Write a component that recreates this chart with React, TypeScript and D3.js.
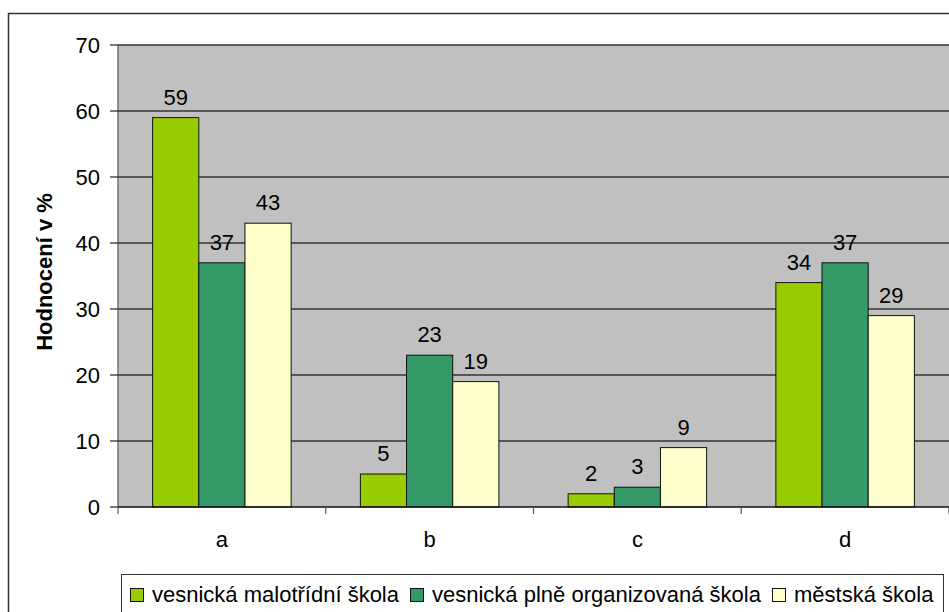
import React, { useEffect, useRef } from 'react';
import * as d3 from 'd3';

const categories = ['a', 'b', 'c', 'd'];
const seriesNames = [
  'vesnická malotřídní škola',
  'vesnická plně organizovaná škola',
  'městská škola',
];
const malotridni = [59, 5, 2, 34];
const plneOrganizovana = [37, 23, 3, 37];
const mestska = [43, 19, 9, 29];
const yTicks = [0, 10, 20, 30, 40, 50, 60, 70];
const colors = ['#99CC00', '#339966', '#FFFFCC'];

const W = 949;
const H = 612;

export default function App() {
  const svgRef = useRef<SVGSVGElement>(null);

  useEffect(() => {
    if (!svgRef.current) return;
    const svg = d3.select(svgRef.current);
    svg.selectAll('*').remove();

    const left = 118, right = 949, top = 45, bottom = 507;
    const font = 'Liberation Sans, Arial, sans-serif';
    const fs = 22;
    const series = [malotridni, plneOrganizovana, mestska];

    // outer chart frame (runs off the right / bottom edge)
    svg.append('rect')
      .attr('x', 8.5).attr('y', 13.5)
      .attr('width', 1000).attr('height', 700)
      .attr('fill', '#fff').attr('stroke', '#333').attr('stroke-width', 1.5);

    const x = d3.scaleBand().domain(categories).range([left, right]);
    const bw = x.bandwidth() / 4.5;
    const x1 = d3.scaleBand().domain(['0', '1', '2']).range([0, bw * 3]);
    const y = d3.scaleLinear().domain([0, 70]).range([bottom, top]);

    svg.append('rect')
      .attr('x', left).attr('y', top)
      .attr('width', right - left).attr('height', bottom - top)
      .attr('fill', '#C0C0C0');

    // gridlines
    svg.append('g').selectAll('line')
      .data(yTicks.filter(t => t > 0))
      .enter().append('line')
      .attr('x1', left).attr('x2', right)
      .attr('y1', d => y(d)).attr('y2', d => y(d))
      .attr('stroke', '#333').attr('stroke-width', 1.5);

    // y axis
    const gy = svg.append('g');
    gy.append('line')
      .attr('x1', left).attr('x2', left).attr('y1', top).attr('y2', bottom)
      .attr('stroke', '#555').attr('stroke-width', 1.2);
    gy.selectAll('.tk').data(yTicks).enter().append('line')
      .attr('x1', left - 8).attr('x2', left)
      .attr('y1', d => y(d)).attr('y2', d => y(d))
      .attr('stroke', '#222').attr('stroke-width', 1.2);
    gy.selectAll('text').data(yTicks).enter().append('text')
      .attr('x', 100).attr('y', d => y(d))
      .attr('dy', '0.36em')
      .attr('text-anchor', 'end')
      .attr('font-family', font).attr('font-size', fs)
      .text(d => d);

    svg.append('text')
      .attr('transform', `translate(52, 272) rotate(-90)`)
      .attr('text-anchor', 'middle')
      .attr('font-family', font).attr('font-size', fs).attr('font-weight', 'bold')
      .text('Hodnocení v %');

    // bars
    categories.forEach((c, ci) => {
      const x0 = (x(c) || 0) + (x.bandwidth() - bw * 3) / 2;
      series.forEach((s, si) => {
        const bx = x0 + (x1(String(si)) || 0);
        svg.append('rect')
          .attr('x', bx).attr('y', y(s[ci]))
          .attr('width', bw).attr('height', bottom - y(s[ci]))
          .attr('fill', colors[si]).attr('stroke', '#111').attr('stroke-width', 1);
        svg.append('text')
          .attr('x', bx + bw / 2).attr('y', y(s[ci]) - 13)
          .attr('text-anchor', 'middle')
          .attr('font-family', font).attr('font-size', fs)
          .text(s[ci]);
      });
    });

    // x axis
    svg.append('line')
      .attr('x1', left).attr('x2', right).attr('y1', bottom).attr('y2', bottom)
      .attr('stroke', '#111').attr('stroke-width', 1.5);
    svg.append('g').selectAll('line')
      .data(categories.map(c => x(c) || 0).concat([right]))
      .enter().append('line')
      .attr('x1', d => d).attr('x2', d => d)
      .attr('y1', bottom).attr('y2', bottom + 7)
      .attr('stroke', '#555').attr('stroke-width', 1.2);
    svg.append('g').selectAll('text')
      .data(categories).enter().append('text')
      .attr('x', d => (x(d) || 0) + x.bandwidth() / 2)
      .attr('y', 547)
      .attr('text-anchor', 'middle')
      .attr('font-family', font).attr('font-size', fs)
      .text(d => d);

    // legend
    svg.append('rect')
      .attr('x', 121.5).attr('y', 574.5)
      .attr('width', 822).attr('height', 60)
      .attr('fill', '#fff').attr('stroke', '#333').attr('stroke-width', 1);
    let lx = 130;
    seriesNames.forEach((name, i) => {
      svg.append('rect')
        .attr('x', lx + 0.5).attr('y', 588.5)
        .attr('width', 13).attr('height', 13)
        .attr('fill', colors[i]).attr('stroke', '#111').attr('stroke-width', 1);
      const t = svg.append('text')
        .attr('x', lx + 22).attr('y', 602)
        .attr('font-family', font).attr('font-size', fs)
        .text(name);
      const len = (t.node() as SVGTextElement).getComputedTextLength();
      lx += 22 + len + 11;
    });
  }, []);

  return (
    <svg
      ref={svgRef}
      width={W}
      height={H}
      style={{ position: 'absolute', left: 0, top: 0, background: '#fff' }}
    />
  );
}
